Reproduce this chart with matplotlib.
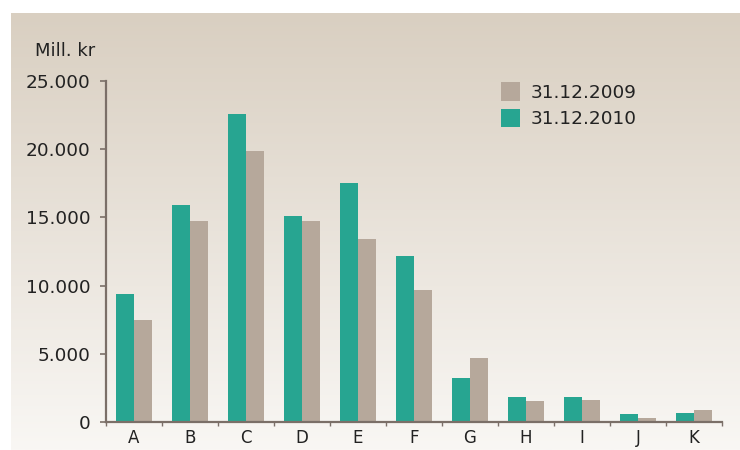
import numpy as np
import matplotlib
matplotlib.use("Agg")
import matplotlib.pyplot as plt
from matplotlib.patches import Patch
from matplotlib.ticker import FuncFormatter, FixedLocator

categories = ["A", "B", "C", "D", "E", "F", "G", "H", "I", "J", "K"]
values_2010 = [9400, 15900, 22600, 15100, 17500, 12200, 3250, 1800, 1800, 560, 640]
values_2009 = [7500, 14700, 19900, 14700, 13400, 9700, 4700, 1550, 1580, 320, 900]
label_2009 = "31.12.2009"
label_2010 = "31.12.2010"
unit_label = "Mill. kr"
y_ticks = [0, 5000, 10000, 15000, 20000, 25000]

TEAL = "#27a591"
TAUPE = "#b6a89b"
AXIS = "#7b6f68"
TEXT = "#222222"

W, H = 740, 450
fig = plt.figure(figsize=(W / 100, H / 100), dpi=100, facecolor="white")
plt.rcParams["font.family"] = ["DejaVu Sans"]

# Beige-to-white vertical gradient panel behind the chart
bg = fig.add_axes([11 / W, 0, 1 - 11 / W, (H - 13) / H], zorder=0)
top = np.array([217, 207, 193]) / 255
bot = np.array([249, 247, 244]) / 255
t = np.linspace(0, 1, 256)[:, None]
grad = top[None, :] * (1 - t) + bot[None, :] * t
bg.imshow(grad[:, None, :], aspect="auto", extent=[0, 1, 0, 1])
bg.set_axis_off()

ax = fig.add_axes([106 / W, (H - 422) / H, (722 - 106) / W, (422 - 81) / H], zorder=1)
ax.set_facecolor("none")

x = np.arange(len(categories))
w = 0.33
ax.bar(x - w / 2, values_2010, width=w, color=TEAL, label=label_2010, zorder=2)
ax.bar(x + w / 2, values_2009, width=w, color=TAUPE, label=label_2009, zorder=2)

ax.set_xlim(-0.5, len(categories) - 0.5)
ax.set_ylim(0, 25000)

for s in ("top", "right"):
    ax.spines[s].set_visible(False)
for s in ("left", "bottom"):
    ax.spines[s].set_color(AXIS)
    ax.spines[s].set_linewidth(1.6)

ax.set_yticks(y_ticks)
ax.yaxis.set_major_formatter(FuncFormatter(lambda v, p: f"{int(v):,}".replace(",", ".")))
ax.tick_params(axis="y", direction="out", length=4, width=1.2, color=AXIS,
               pad=7, labelsize=13.3, labelcolor=TEXT)

ax.set_xticks(x)
ax.set_xticklabels(categories)
ax.xaxis.set_minor_locator(FixedLocator(np.arange(-0.5, len(categories), 1.0)))
ax.tick_params(axis="x", which="major", length=0, pad=5, labelsize=12, labelcolor=TEXT)
ax.tick_params(axis="x", which="minor", direction="out", length=3, width=1.0, color=AXIS)

fig.text(35 / W, (H - 51) / H, unit_label, fontsize=13, color=TEXT, ha="left", va="center")

handles = [Patch(facecolor=TAUPE, label=label_2009), Patch(facecolor=TEAL, label=label_2010)]
ax.legend(handles=handles, loc="upper left", bbox_to_anchor=(492 / W, (H - 73) / H),
          bbox_transform=fig.transFigure, frameon=False, fontsize=13.3, borderpad=0,
          handlelength=1.0, handleheight=1.15, handletextpad=0.6, labelspacing=0.4,
          labelcolor=TEXT)

fig.savefig("out.png", dpi=100, facecolor="white")
